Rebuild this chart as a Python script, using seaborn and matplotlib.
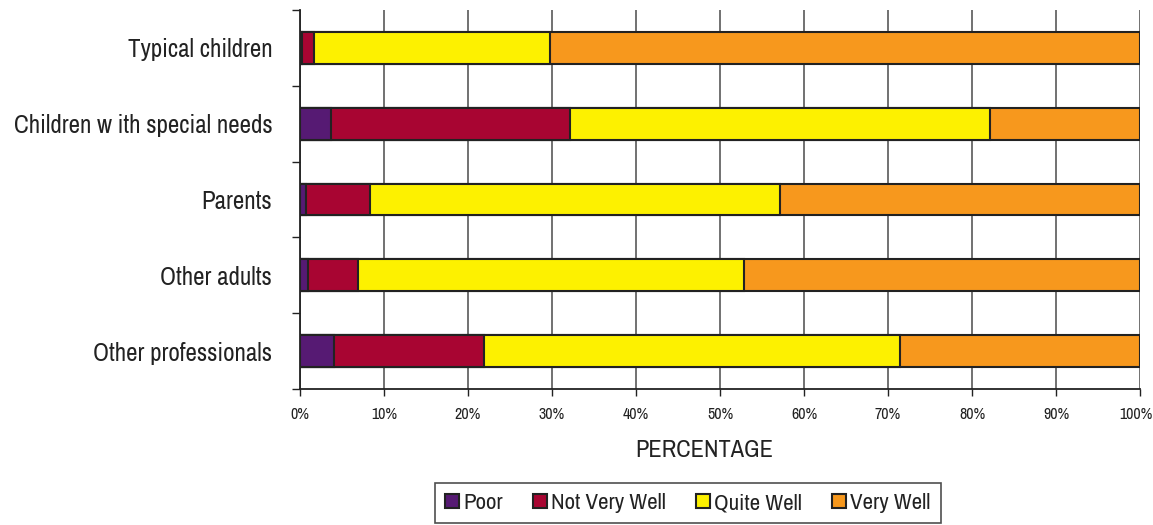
import matplotlib
matplotlib.use("Agg")
import matplotlib.pyplot as plt
import matplotlib.patches as mpatches
import matplotlib.transforms as mtransforms
import numpy as np
import pandas as pd
import seaborn as sns

groups = ["Typical children", "Children w ith special needs", "Parents",
          "Other adults", "Other professionals"]
levels = ["Poor", "Not Very Well", "Quite Well", "Very Well"]
poor = [0.2, 3.7, 0.7, 1.0, 4.1]
not_very_well = [1.5, 28.4, 7.6, 5.9, 17.8]
quite_well = [28.1, 50.0, 48.8, 46.0, 49.5]
very_well = [70.2, 17.9, 42.9, 47.1, 28.6]
colors = ["#561a73", "#a80532", "#fdf100", "#f7981d"]

sns.set_style("white")
plt.rcParams["font.family"] = ["Archivo Narrow", "Liberation Sans", "DejaVu Sans"]

df = pd.DataFrame({"group": groups, "Poor": poor, "Not Very Well": not_very_well,
                   "Quite Well": quite_well, "Very Well": very_well})
cum = df[levels].cumsum(axis=1)

fig = plt.figure(figsize=(11.53, 5.25), dpi=100)
ax = fig.add_axes([300 / 1153, 1 - 389 / 525, 840 / 1153, 379 / 525])

# stacked bars: draw cumulative totals from the widest down
for lvl, col in reversed(list(zip(levels, colors))):
    sns.barplot(x=cum[lvl], y=df["group"], color=col, orient="h", width=0.42,
                edgecolor="#222222", linewidth=1.5, saturation=1, ax=ax, zorder=3)

ax.set_xlim(0, 100)
ax.set_ylim(4.5, -0.5)
ax.set_xticks(np.arange(0, 101, 10))
ax.set_xticklabels([f"{v}%" for v in range(0, 101, 10)], fontsize=11.5)
ax.xaxis.grid(True, color="#666666", linewidth=1.3, zorder=0)
ax.set_axisbelow(True)
ax.set_yticks(range(len(groups)))
ax.set_yticklabels(groups, fontsize=18, color="#222222")
ax.set_yticks(np.arange(-0.5, 5, 1), minor=True)
ax.tick_params(axis="y", which="major", length=0, pad=20)
ax.tick_params(axis="y", which="minor", length=6, width=1, color="#222222", direction="out", left=True)
ax.tick_params(axis="x", length=5, width=1, color="#222222", direction="out", bottom=True, pad=8,
               labelcolor="#222222")
# keep "100%" inside the canvas
last = ax.get_xticklabels()[-1]
last.set_transform(last.get_transform() + mtransforms.ScaledTranslation(-4 / 100, 0, fig.dpi_scale_trans))
ax.set_ylabel("")
ax.set_xlabel("PERCENTAGE", fontsize=17.5, color="#222222")
ax.xaxis.set_label_coords((704 - 300) / 840, (389 - 440) / 379)

for s in ["top", "right"]:
    ax.spines[s].set_visible(False)
for s in ["left", "bottom"]:
    ax.spines[s].set_color("#222222")
    ax.spines[s].set_linewidth(1.3)

handles = [mpatches.Patch(facecolor=c, edgecolor="#222222", linewidth=1.5, label=l)
           for l, c in zip(levels, colors)]
leg = fig.legend(handles=handles, loc="lower center", ncol=4, fontsize=16.5,
                 bbox_to_anchor=(688 / 1153, -0.01), frameon=True, fancybox=False,
                 handlelength=0.6, handleheight=0.6, handletextpad=0.2,
                 columnspacing=1.3, borderpad=0.45, borderaxespad=0.3)
leg.get_frame().set_edgecolor("#222222")
leg.get_frame().set_linewidth(1.2)
for t in leg.get_texts():
    t.set_color("#222222")

fig.savefig("out.png", dpi=100)
